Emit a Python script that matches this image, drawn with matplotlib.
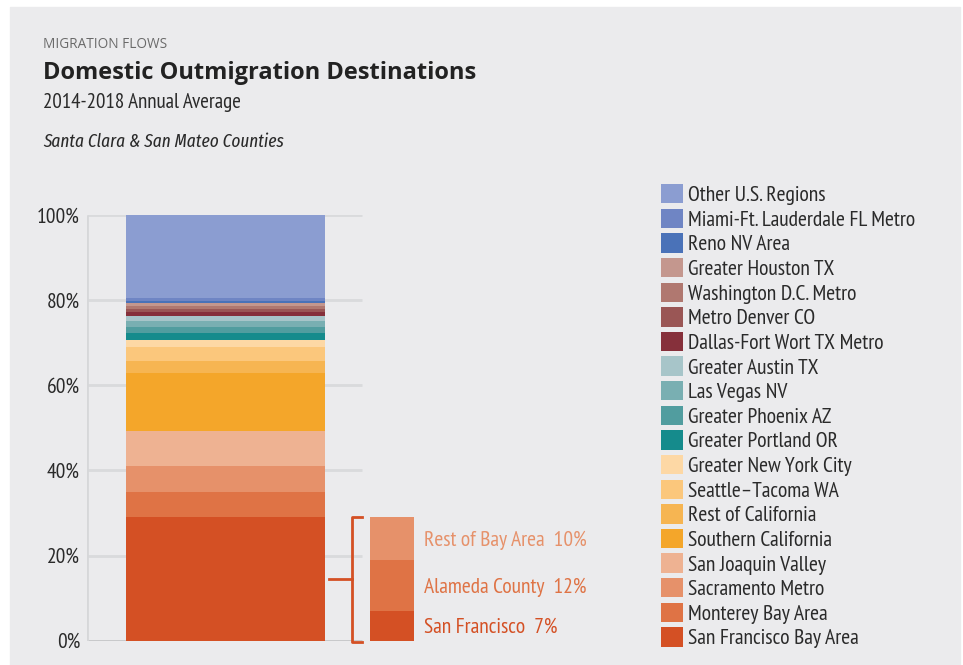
import numpy as np
import matplotlib
matplotlib.use("Agg")
import matplotlib.pyplot as plt

# stacked bar data, bottom -> top (percent of outmigration)
regions = ["San Francisco Bay Area", "Monterey Bay Area", "Sacramento Metro",
           "San Joaquin Valley", "Southern California", "Rest of California",
           "Seattle\u2013Tacoma WA", "Greater New York City", "Greater Portland OR",
           "Greater Phoenix AZ", "Las Vegas NV", "Greater Austin TX",
           "Dallas-Fort Wort TX Metro", "Metro Denver CO", "Washington D.C. Metro",
           "Greater Houston TX", "Reno NV Area", "Miami-Ft. Lauderdale FL Metro",
           "Other U.S. Regions"]
shares = [29.1, 5.9, 6.1, 8.2, 13.7, 2.8, 3.1, 1.8, 1.5, 1.6, 1.2, 1.2, 1.1,
          0.7, 0.7, 0.7, 0.5, 0.5, 19.6]
colors = ["#d45024", "#df7345", "#e6916a", "#eeb292", "#f4a62a", "#f6b552",
          "#fbc77c", "#fdd8a5", "#158b8c", "#519d9f", "#79afb2", "#a7c5c9",
          "#86303b", "#9a5655", "#b07870", "#c4978e", "#4a72b8", "#6f85c4",
          "#8b9dd1"]

# breakout of the Bay Area segment, bottom -> top
bay_parts = ["San Francisco", "Alameda County", "Rest of Bay Area"]
bay_shares = [7, 12, 10]
bay_colors = ["#d45024", "#df7345", "#e6916a"]

yticks = [0, 20, 40, 60, 80, 100]

NARROW = ["PT Sans Narrow", "Liberation Sans", "DejaVu Sans"]
ITAL = ["Fira Sans Extra Condensed", "Fira Sans Condensed", "DejaVu Sans"]
BOLD = ["Open Sans", "DejaVu Sans"]
BG = "#ebebed"
DARK = "#2a2a2a"

fig = plt.figure(figsize=(9.63, 6.65), dpi=100)
# gray panel with a thin white margin
fig.patches.append(plt.Rectangle((10/963, 0), 950/963, 1-7/665,
                                 transform=fig.transFigure, color=BG, zorder=-1))

ax = fig.add_axes([87/963, 24.3/665, 333.5/963, 425.7/665])
ax.set_facecolor("none")
x0, x1 = -0.696, 0.98
ax.set_xlim(x0, x1)
ax.set_ylim(0, 100)
for s in ax.spines.values():
    s.set_visible(False)

# gridlines and frame
grid_end = 0.686
ax.hlines(yticks[1:], x0, grid_end, color="#d9dadc", lw=2, zorder=1)
ax.hlines(0, x0, grid_end, color="#c4c5c7", lw=2, zorder=1)
ax.vlines(x0, 0, 100, color="#d6d7d9", lw=2, zorder=1)

ax.set_xticks([])
ax.set_yticks(yticks)
ax.set_yticklabels([f"{t}%" for t in yticks], family=NARROW, fontsize=15.5, color=DARK)
ax.tick_params(axis="y", length=0, pad=5)

# main stacked bar
bottoms = np.concatenate([[0], np.cumsum(shares)[:-1]])
bars = []
for r, v, b, c in zip(regions, shares, bottoms, colors):
    bars.append(ax.bar(0, v, bottom=b, width=1.0, color=c, label=r, zorder=2))

# breakout bar
bx, bw = 0.837, 0.221
bay_bottoms = np.concatenate([[0], np.cumsum(bay_shares)[:-1]])
for name, v, b, c in zip(bay_parts, bay_shares, bay_bottoms, bay_colors):
    ax.bar(bx, v, bottom=b, width=bw, color=c, zorder=2)
    ax.text(0.997, b + v/2 - 0.4, f"{name}  {v}%", family=NARROW, fontsize=15.5,
            color=c, va="center", ha="left")

# bracket
top = sum(bay_shares)
br = "#d45024"
ax.plot([grid_end, 0.636, 0.636, grid_end], [top, top, -0.3, -0.3],
        color=br, lw=2, clip_on=False, zorder=3)
ax.plot([0.52, 0.636], [top/2, top/2], color=br, lw=2, zorder=3)

# legend, top entry first
leg = fig.legend([b[0] for b in bars[::-1]], regions[::-1], loc="upper left",
                 bbox_to_anchor=(661/963, 1-184/665), frameon=False,
                 borderpad=0, borderaxespad=0, handlelength=1.0,
                 handleheight=1.0, handletextpad=0.25, labelspacing=0.162,
                 prop={"family": NARROW, "size": 15.6})
for t in leg.get_texts():
    t.set_color(DARK)

# titles
fig.text(43/963, 1-45/665, "MIGRATION FLOWS", fontsize=9.8, color="#6a6a6a",
         family=BOLD, va="center")
fig.text(43/963, 1-73/665, "Domestic Outmigration Destinations", fontsize=17,
         weight="bold", color="#222222", family=BOLD, va="center")
fig.text(43/963, 1-102/665, "2014-2018 Annual Average", fontsize=15.1,
         color=DARK, family=NARROW, va="center")
fig.text(43/963, 1-142/665, "Santa Clara & San Mateo Counties", fontsize=13.5,
         color=DARK, family=ITAL, style="italic", va="center")

fig.savefig("out.png", dpi=100, facecolor="white")
